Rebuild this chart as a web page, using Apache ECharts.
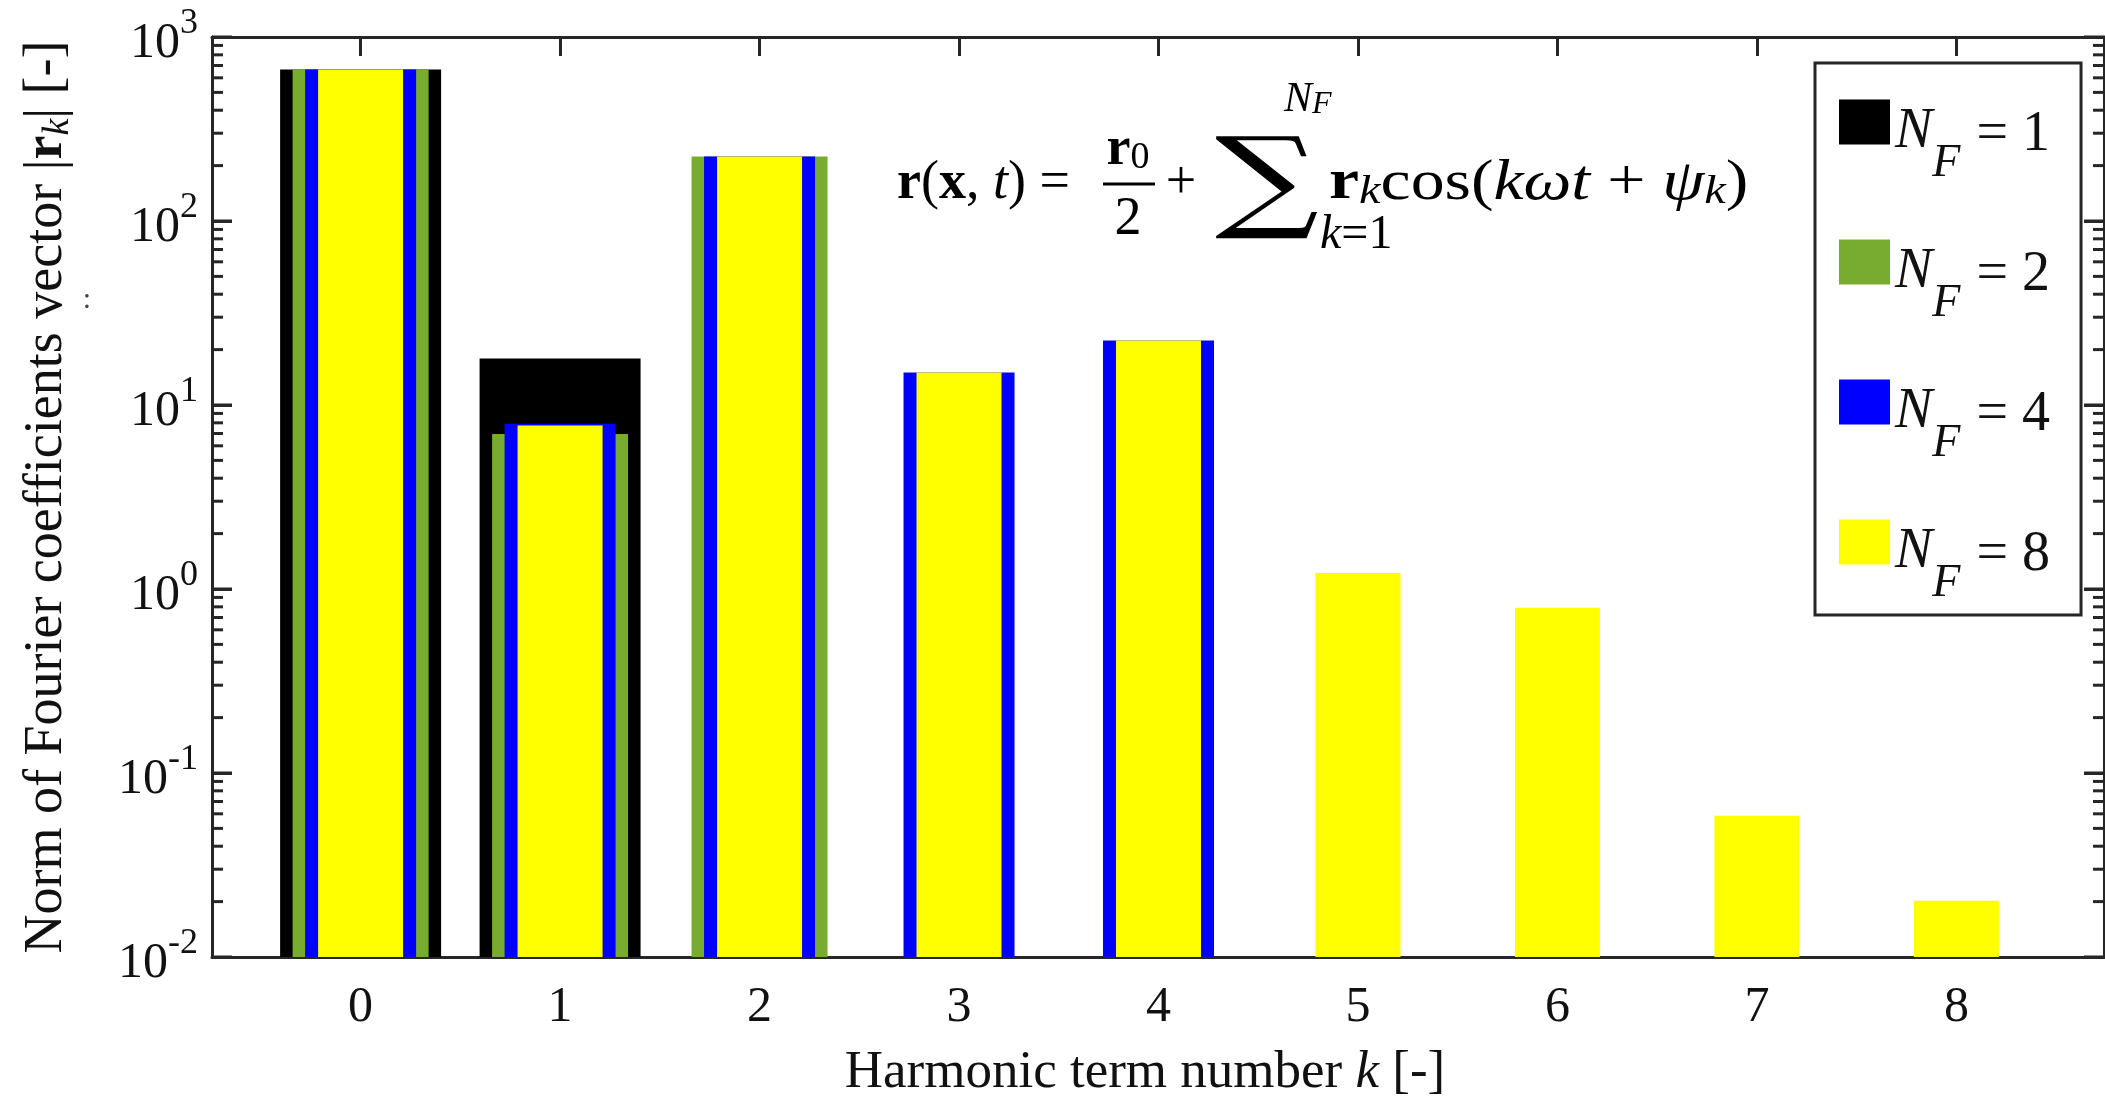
<!DOCTYPE html>
<html>
<head>
<meta charset="utf-8">
<title>Fourier coefficients</title>
<script src="https://cdn.jsdelivr.net/npm/echarts@6/dist/echarts.min.js"></script>
<style>
html, body { margin: 0; padding: 0; background: #fff; }
#chart { width: 2105px; height: 1096px; }
</style>
</head>
<body>
<div id="chart"></div>
<script>
// harmonic term numbers k
const harmonics = [0, 1, 2, 3, 4, 5, 6, 7, 8]
// norm of Fourier coefficients |r_k| for each N_F (null = not present)
const nf1 = [665, 17.9, null, null, null, null, null, null, null]
const nf2 = [665, 6.95, 224, null, null, null, null, null, null]
const nf4 = [665, 7.9, 224, 15.0, 22.4, null, null, null, null]
const nf8 = [665, 7.74, 224, 15.0, 22.4, 1.22, 0.79, 0.0585, 0.0202]
const seriesNames = ['1', '2', '4', '8']
const seriesColors = ['#000000', '#77AC30', '#0000FF', '#FFFF00']
const barWidths = [161, 136, 111, 85]
// log-axis ticks
const majorTicks = [0.01, 0.1, 1, 10, 100, 1000]
const minorTicks = []
majorTicks.slice(0, -1).forEach((d) => {
  for (let m = 2; m <= 9; m++) minorTicks.push(+(d * m).toPrecision(3))
})
const majorExp = majorTicks.map((v) => Math.round(Math.log10(v)))

const FONT = 'Liberation Serif'
const AXIS_COLOR = '#262626'
const X_MIN = -0.745
const X_MAX = 8.74
const chart = echarts.init(document.getElementById('chart'))

const toPairs = (vals) => harmonics
  .map((k, i) => [k, vals[i]])
  .filter((p) => p[1] !== null)

const barSeries = [nf1, nf2, nf4, nf8].map((vals, i) => ({
  name: seriesNames[i],
  type: 'bar',
  xAxisIndex: i,
  yAxisIndex: 0,
  barWidth: barWidths[i],
  itemStyle: { color: seriesColors[i] },
  data: toPairs(vals),
  silent: true,
}))

// inward log ticks on the left and right frame edges
const tickSeries = {
  type: 'custom',
  xAxisIndex: 0,
  yAxisIndex: 0,
  silent: true,
  clip: false,
  z: 10,
  data: majorTicks.concat(minorTicks).map((v) => [X_MIN, v]),
  renderItem: (params, api) => {
    const v = api.value(1)
    const len = majorTicks.indexOf(v) >= 0 ? 20 : 11
    const left = api.coord([X_MIN, v])
    const right = api.coord([X_MAX, v])
    const style = { fill: AXIS_COLOR }
    return {
      type: 'group',
      children: [
        { type: 'rect', shape: { x: left[0], y: left[1] - 1.5, width: len, height: 3 }, style },
        { type: 'rect', shape: { x: right[0] - len, y: right[1] - 1.5, width: len, height: 3 }, style },
      ],
    }
  },
}

const lineStyle = { color: AXIS_COLOR, width: 3 }
const axisLine = { show: true, onZero: false, lineStyle }
const gridRect = { left: 212, right: 1, top: 37, bottom: 139, containLabel: false, outerBoundsMode: 'none' }
const xBase = { type: 'value', min: X_MIN, max: X_MAX, splitLine: { show: false } }
// frame/label axes live in log10 space, same span as the log axis of the bars
const expBase = { type: 'value', min: -2, max: 3, splitLine: { show: false }, axisLine }

const supRich = {
  b: { fontFamily: FONT, fontSize: 50, lineHeight: 40, padding: [14, 0, 0, 0], color: '#111' },
  s: { fontFamily: FONT, fontSize: 36, lineHeight: 30, padding: [0, 0, 26, 0], color: '#111' },
}

chart.setOption({
  animation: false,
  backgroundColor: '#fff',
  // grid 0: bars and ticks, grid 1: frame sides and y labels
  grid: [Object.assign({}, gridRect), Object.assign({}, gridRect)],
  legend: {
    orient: 'vertical',
    left: 1815,
    top: 63,
    padding: [34, 31, 8, 24],
    itemGap: 50,
    itemWidth: 51,
    itemHeight: 45,
    icon: 'rect',
    selectedMode: false,
    borderColor: AXIS_COLOR,
    borderWidth: 3,
    borderRadius: 0,
    data: seriesNames,
    formatter: (name) => '{n|N}{f|F}{e| = ' + name + '}',
    textStyle: {
      rich: {
        n: { fontFamily: FONT, fontStyle: 'italic', fontSize: 56, lineHeight: 50, padding: [7, 0, 0, 0], verticalAlign: 'top', color: '#111' },
        f: { fontFamily: FONT, fontStyle: 'italic', fontSize: 46, lineHeight: 40, padding: [44, 2, 0, 0], verticalAlign: 'top', color: '#111' },
        e: { fontFamily: FONT, fontSize: 56, lineHeight: 50, padding: [10, 0, 0, 0], verticalAlign: 'top', color: '#111' },
      },
    },
  },
  xAxis: [
    Object.assign({}, xBase, {
      gridIndex: 0,
      position: 'bottom',
      axisLine,
      axisTick: { show: true, inside: true, length: 19, customValues: harmonics, lineStyle },
      axisLabel: {
        customValues: harmonics,
        margin: 26,
        fontFamily: FONT,
        fontSize: 50,
        color: '#111',
      },
      name: 'Harmonic term number {i|k} [-]',
      nameLocation: 'middle',
      nameGap: 90,
      nameTextStyle: {
        fontFamily: FONT,
        fontSize: 53,
        color: '#111',
        padding: [0, 26, 0, 0],
        rich: { i: { fontFamily: FONT, fontSize: 53, fontStyle: 'italic', color: '#111' } },
      },
    }),
    Object.assign({}, xBase, {
      gridIndex: 0,
      position: 'top',
      axisLine,
      axisTick: { show: true, inside: true, length: 19, customValues: harmonics, lineStyle },
      axisLabel: { show: false },
    }),
    Object.assign({}, xBase, { gridIndex: 0, show: false, axisLine: { onZero: false } }),
    Object.assign({}, xBase, { gridIndex: 0, show: false, axisLine: { onZero: false } }),
    Object.assign({}, xBase, { gridIndex: 1, show: false, axisLine: { onZero: false } }),
  ],
  yAxis: [
    {
      gridIndex: 0,
      type: 'log',
      min: 0.01,
      max: 1000,
      startValue: 0.01,
      position: 'left',
      axisLine: { show: false, onZero: false },
      axisTick: { show: false },
      axisLabel: { show: false },
      splitLine: { show: false },
    },
    Object.assign({}, expBase, {
      gridIndex: 1,
      position: 'left',
      axisTick: { show: true, inside: true, length: 20, customValues: majorExp, lineStyle },
      axisLabel: {
        customValues: majorExp,
        margin: 14,
        formatter: (v) => '{b|10}{s|' + Math.round(v) + '}',
        rich: supRich,
      },
      name: 'Norm of Fourier coefficients vector |{b|r}{k|k}| [-]',
      nameLocation: 'middle',
      nameRotate: 90,
      nameGap: 135,
      nameTextStyle: {
        fontFamily: FONT,
        fontSize: 54,
        color: '#111',
        rich: {
          b: { fontFamily: FONT, fontSize: 54, fontWeight: 'bold', color: '#111', lineHeight: 60 },
          k: { fontFamily: FONT, fontSize: 38, fontStyle: 'italic', color: '#111', lineHeight: 30, verticalAlign: 'bottom', padding: [26, 0, 0, 0] },
        },
      },
    }),
    Object.assign({}, expBase, {
      gridIndex: 1,
      position: 'right',
      axisTick: { show: true, inside: true, length: 20, customValues: majorExp, lineStyle },
      axisLabel: { show: false },
    }),
  ],
  graphic: [
    // formula annotation
    {
      type: 'text', x: 897, y: 184, z: 100,
      style: {
        text: '{b|r}{n|(}{b|x}{n|, }{i|t}{n|) =}',
        verticalAlign: 'middle',
        rich: {
          n: { fontFamily: FONT, fontSize: 54, fill: '#000' },
          b: { fontFamily: FONT, fontSize: 54, fontWeight: 'bold', fill: '#000' },
          i: { fontFamily: FONT, fontSize: 54, fontStyle: 'italic', fill: '#000' },
        },
      },
    },
    {
      type: 'text', x: 1128, y: 150, z: 100,
      style: {
        text: '{b|r}{s|0}',
        align: 'center',
        verticalAlign: 'middle',
        rich: {
          b: { fontFamily: FONT, fontSize: 54, fontWeight: 'bold', fill: '#000', lineHeight: 54 },
          s: { fontFamily: FONT, fontSize: 38, fill: '#000', lineHeight: 32, verticalAlign: 'bottom' },
        },
      },
    },
    { type: 'line', z: 100, shape: { x1: 1103, y1: 184, x2: 1155, y2: 184 }, style: { stroke: '#000', lineWidth: 3 } },
    { type: 'text', x: 1128, y: 220, z: 100, style: { text: '2', align: 'center', verticalAlign: 'middle', fontFamily: FONT, fontSize: 54, fill: '#000' } },
    { type: 'text', x: 1181, y: 184, z: 100, style: { text: '+', align: 'center', verticalAlign: 'middle', fontFamily: FONT, fontSize: 54, fill: '#000' } },
    { type: 'text', x: 1267, y: 188, z: 100, scaleX: 1.3, style: { text: '\u2211', align: 'center', verticalAlign: 'middle', fontFamily: 'DejaVu Serif', fontSize: 112, fill: '#000' } },
    {
      type: 'text', x: 1284, y: 100, z: 100,
      style: {
        text: '{i|N}{s|F}',
        verticalAlign: 'middle',
        rich: {
          i: { fontFamily: FONT, fontSize: 42, fontStyle: 'italic', fill: '#000', lineHeight: 42 },
          s: { fontFamily: FONT, fontSize: 32, fontStyle: 'italic', fill: '#000', lineHeight: 24, verticalAlign: 'bottom' },
        },
      },
    },
    {
      type: 'text', x: 1320, y: 235, z: 100,
      style: {
        text: '{i|k}{n|=1}',
        verticalAlign: 'middle',
        rich: {
          i: { fontFamily: FONT, fontSize: 48, fontStyle: 'italic', fill: '#000' },
          n: { fontFamily: FONT, fontSize: 48, fill: '#000' },
        },
      },
    },
    {
      type: 'text', x: 1329, y: 184, z: 100, scaleX: 1.21,
      style: {
        text: '{b|r}{s|k}{n|cos(}{i|k\u03C9t}{n| + }{i|\u03C8}{s|k}{n|)}',
        verticalAlign: 'middle',
        rich: {
          n: { fontFamily: FONT, fontSize: 56, fill: '#000', lineHeight: 56 },
          b: { fontFamily: FONT, fontSize: 56, fontWeight: 'bold', fill: '#000', lineHeight: 56 },
          i: { fontFamily: FONT, fontSize: 56, fontStyle: 'italic', fill: '#000', lineHeight: 56 },
          s: { fontFamily: FONT, fontSize: 40, fontStyle: 'italic', fill: '#000', lineHeight: 30, verticalAlign: 'bottom', padding: [12, 0, 0, 0] },
        },
      },
    },
    // stray mark beside the y title
    { type: 'text', x: 87, y: 300, z: 100, style: { text: ':', align: 'center', verticalAlign: 'middle', fontFamily: FONT, fontSize: 30, fill: '#444' } },
  ],
  series: barSeries.concat([tickSeries]),
})
</script>
</body>
</html>
